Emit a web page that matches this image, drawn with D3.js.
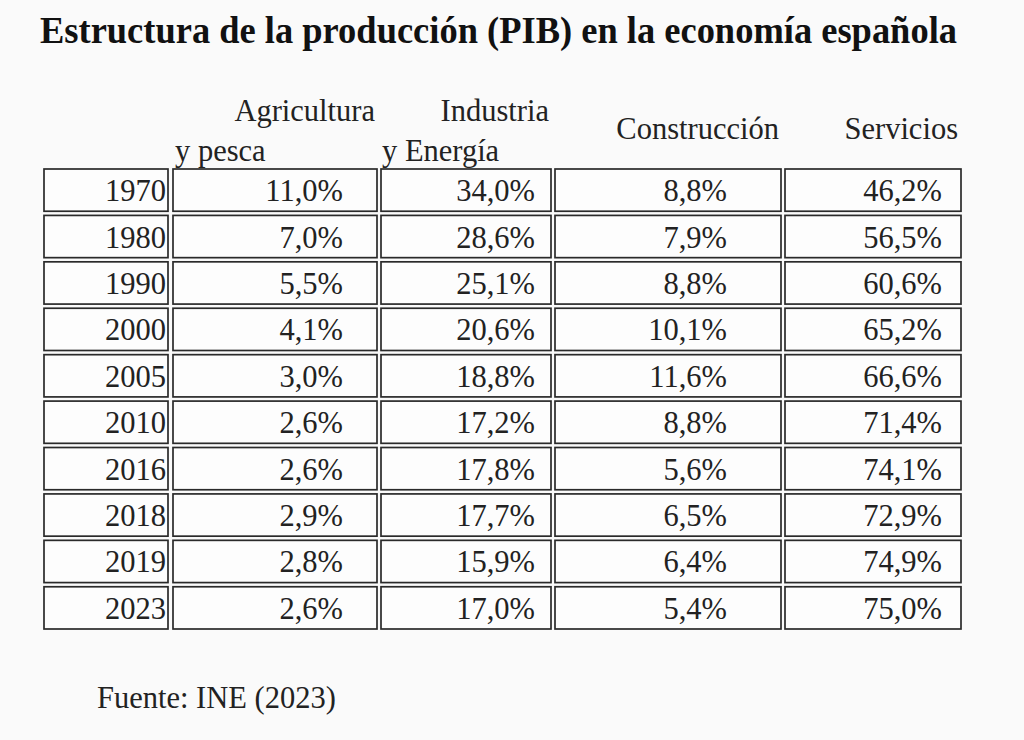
<!DOCTYPE html>
<html><head><meta charset="utf-8">
<script src="https://cdn.jsdelivr.net/npm/d3@7"></script>
<style>body{margin:0;background:#fafafa;}svg{display:block;}</style>
</head><body>
<svg id="c" width="1024" height="740"></svg>
<script>
const years = ["1970","1980","1990","2000","2005","2010","2016","2018","2019","2023"];
const agricultura = [11.0, 7.0, 5.5, 4.1, 3.0, 2.6, 2.6, 2.9, 2.8, 2.6];
const industria = [34.0, 28.6, 25.1, 20.6, 18.8, 17.2, 17.8, 17.7, 15.9, 17.0];
const construccion = [8.8, 7.9, 8.8, 10.1, 11.6, 8.8, 5.6, 6.5, 6.4, 5.4];
const servicios = [46.2, 56.5, 60.6, 65.2, 66.6, 71.4, 74.1, 72.9, 74.9, 75.0];
const headers = [[""], ["Agricultura","y pesca"], ["Industria","y Energía"], ["Construcción"], ["Servicios"]];
const title = "Estructura de la producción (PIB) en la economía española";
const source = "Fuente: INE (2023)";

const svg = d3.select("#c");
const font = "'Liberation Serif','Times New Roman',serif";
const fmt = v => d3.format(".1f")(v).replace(".", ",") + "%";
const fs = 30.5;

// layout (column box extents and text anchors)
const colBox = [[44,168],[173,377],[381,551],[555,781],[785,961]];
const colTextRight = [166, 343, 535, 727, 942];
const y = d3.scaleBand().domain(years).range([169, 629]).paddingInner(0.09);

svg.append("rect").attr("width",1024).attr("height",740).attr("fill","#fafafa");

svg.append("text").attr("x",40).attr("y",43)
  .attr("font-family",font).attr("font-weight","bold").attr("font-size",37)
  .attr("textLength",917).attr("lengthAdjust","spacingAndGlyphs")
  .attr("fill","#111").text(title);

// headers
const hdr = svg.append("g").attr("font-family",font).attr("font-size",fs).attr("fill","#222");
hdr.append("text").attr("x",375).attr("y",121).attr("text-anchor","end").text(headers[1][0]);
hdr.append("text").attr("x",175).attr("y",161).text(headers[1][1]);
hdr.append("text").attr("x",549).attr("y",121).attr("text-anchor","end").text(headers[2][0]);
hdr.append("text").attr("x",382).attr("y",161).text(headers[2][1]);
hdr.append("text").attr("x",779).attr("y",139).attr("text-anchor","end").text(headers[3][0]);
hdr.append("text").attr("x",958).attr("y",139).attr("text-anchor","end").text(headers[4][0]);

const rows = years.map((yr,i)=>[yr, fmt(agricultura[i]), fmt(industria[i]), fmt(construccion[i]), fmt(servicios[i])]);

const g = svg.append("g");
rows.forEach((r,i)=>{
  const yy = y(years[i]);
  r.forEach((cell,j)=>{
    g.append("rect").attr("x",colBox[j][0]).attr("y",yy)
      .attr("width",colBox[j][1]-colBox[j][0]).attr("height",y.bandwidth())
      .attr("fill","#fdfdfd").attr("stroke","#2a2a2a").attr("stroke-width",1.7);
    g.append("text").attr("x",colTextRight[j]).attr("y",yy + y.bandwidth()/2 + 11)
      .attr("text-anchor","end").attr("font-family",font).attr("font-size",fs)
      .attr("fill","#222").text(cell);
  });
});

svg.append("text").attr("x",97).attr("y",708)
  .attr("font-family",font).attr("font-size",fs).attr("fill","#222").text(source);
</script>
</body></html>
